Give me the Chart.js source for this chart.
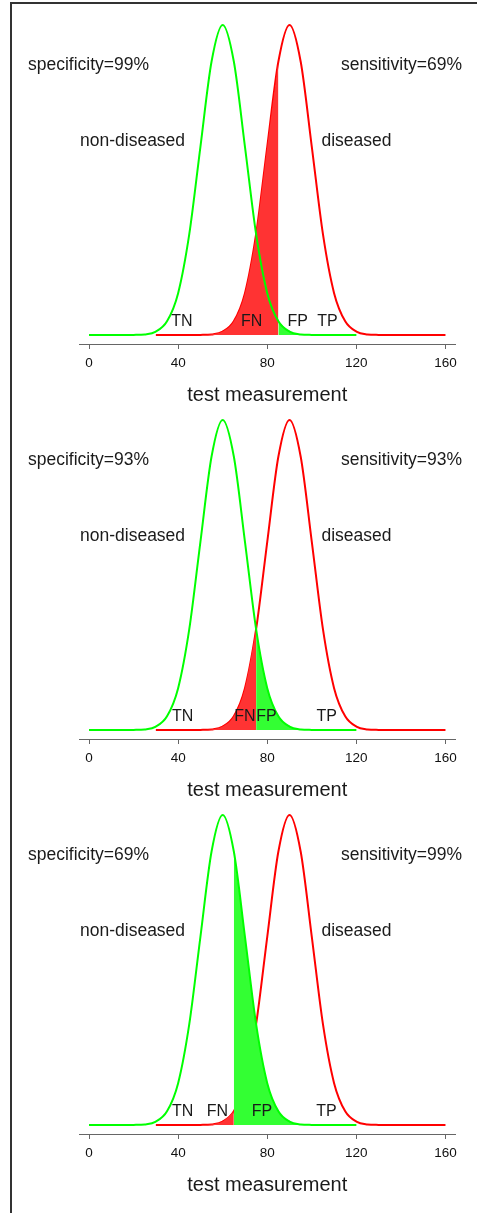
<!DOCTYPE html>
<html>
<head>
<meta charset="utf-8">
<script src="https://cdn.jsdelivr.net/npm/chart.js@4.4.1/dist/chart.umd.min.js"></script>
<style>
  html, body { margin: 0; padding: 0; background: #fff; overflow: hidden; }
  body { width: 477px; height: 1213px; position: relative; }
  .frame { position: absolute; left: 10px; top: 2px; width: 480px; height: 1300px;
           border-top: 2px solid #333; border-left: 2px solid #333; border-right: none; border-bottom: none; }
  canvas { position: absolute; left: 0; }
</style>
</head>
<body>
<div class="frame"></div>
<canvas id="p0" width="477" height="407" style="top:0px"></canvas>
<canvas id="p1" width="477" height="407" style="top:395px"></canvas>
<canvas id="p2" width="477" height="407" style="top:790px"></canvas>
<script>
// Relative density of the test measurement, non-diseased group (peak = 1)
const measureNonDiseased = [0, 5, 10, 15, 20, 25, 30, 35, 40, 45, 50, 55, 60,
                            65, 70, 75, 80, 85, 90, 95, 100, 105, 110, 115, 120];
const densityNonDiseased = [0, 0, 0, 0, 0.0003, 0.002, 0.011, 0.044, 0.135, 0.325, 0.607, 0.882, 1,
                            0.882, 0.607, 0.325, 0.135, 0.044, 0.011, 0.002, 0.0003, 0, 0, 0, 0];
// Relative density of the test measurement, diseased group (peak = 1)
const measureDiseased = [30, 35, 40, 45, 50, 55, 60, 65, 70, 75, 80, 85, 90, 95,
                         100, 105, 110, 115, 120, 125, 130, 135, 140, 145, 150, 155, 160];
const densityDiseased = [0, 0, 0, 0, 0.0003, 0.002, 0.011, 0.044, 0.135, 0.325, 0.607, 0.882, 1, 0.882,
                         0.607, 0.325, 0.135, 0.044, 0.011, 0.002, 0.0003, 0, 0, 0, 0, 0, 0];
// One cut-off per panel and the resulting test characteristics
const cutoffs = [85, 75, 65];
const specificity = [99, 93, 69];
const sensitivity = [69, 93, 99];
const tickValues = [0, 40, 80, 120, 160];
const outcomeLabels = ['TN', 'FN', 'FP', 'TP'];
const groupLabels = ['non-diseased', 'diseased'];
const axisTitle = 'test measurement';

const FONT = '"Liberation Sans", Arial, Helvetica, sans-serif';
const TEXT = '#1a1a1a';
// horizontal centres (in measurement units) of the TN / FN / FP / TP labels
const outcomeLabelPos = [
  [41.7, 73, 93.7, 107],
  [42, 70, 79.6, 106.7],
  [42, 57.6, 77.6, 106.6]
];

function points(xs, ys, keep) {
  const out = [];
  xs.forEach((x, i) => { if (keep(x)) out.push({ x: x, y: ys[i] }); });
  return out;
}

const annotate = {
  id: 'annotate',
  afterDatasetsDraw(chart, args, opts) {
    const ctx = chart.ctx;
    const xs = chart.scales.x, ys = chart.scales.y;
    const base = ys.getPixelForValue(0);
    const k = opts.panel;
    ctx.save();
    ctx.fillStyle = TEXT;
    ctx.textBaseline = 'middle';
    ctx.font = '17.5px ' + FONT;
    ctx.textAlign = 'left';
    ctx.fillText('specificity=' + specificity[k] + '%', 28, 65);
    ctx.textAlign = 'right';
    ctx.fillText('sensitivity=' + sensitivity[k] + '%', 462, 65);
    ctx.textAlign = 'left';
    ctx.fillText(groupLabels[0], 80, 141);
    ctx.fillText(groupLabels[1], 321.5, 141);
    ctx.font = '16px ' + FONT;
    ctx.textAlign = 'center';
    outcomeLabels.forEach((t, j) => {
      ctx.fillText(t, xs.getPixelForValue(outcomeLabelPos[k][j]), base - 13);
    });
    ctx.restore();
  }
};

function makePanel(k) {
  const cut = cutoffs[k];
  const lineOpts = { pointRadius: 0, borderWidth: 2, fill: false, cubicInterpolationMode: 'monotone' };
  const fillOpts = { pointRadius: 0, borderWidth: 0, fill: 'origin', cubicInterpolationMode: 'monotone' };
  new Chart(document.getElementById('p' + k), {
    type: 'line',
    data: {
      datasets: [
        Object.assign({ label: 'diseased', order: 4, borderColor: '#ff0000',
          data: points(measureDiseased, densityDiseased, () => true) }, lineOpts),
        Object.assign({ label: 'FN', order: 3, backgroundColor: '#ff3333', borderColor: '#ff3333',
          data: points(measureDiseased, densityDiseased, x => x <= cut) }, fillOpts),
        Object.assign({ label: 'FP', order: 2, backgroundColor: '#33ff33', borderColor: '#33ff33',
          data: points(measureNonDiseased, densityNonDiseased, x => x >= cut) }, fillOpts),
        Object.assign({ label: 'non-diseased', order: 1, borderColor: '#00ff00',
          data: points(measureNonDiseased, densityNonDiseased, () => true) }, lineOpts)
      ]
    },
    options: {
      responsive: false,
      animation: false,
      devicePixelRatio: 1,
      layout: { padding: { left: 79, right: 21.5, top: 10, bottom: 0 } },
      plugins: { legend: { display: false }, tooltip: { enabled: false }, annotate: { panel: k } },
      scales: {
        x: {
          type: 'linear', min: -4.5, max: 164.5,
          afterBuildTicks: s => { s.ticks = tickValues.map(v => ({ value: v })); },
          afterFit: s => { s.height = 63; },
          grid: { drawOnChartArea: false, drawTicks: true, tickLength: 5, color: '#666', lineWidth: 1 },
          border: { display: true, color: '#666', width: 1 },
          ticks: { font: { family: FONT, size: 13.5 }, color: '#111', padding: 6, autoSkip: false, maxRotation: 0 },
          title: { display: true, text: axisTitle, color: TEXT, font: { family: FONT, size: 20 }, padding: 0 }
        },
        y: { display: false, min: -0.029, max: 1.048 }
      }
    },
    plugins: [annotate]
  });
}
[0, 1, 2].forEach(makePanel);
</script>
</body>
</html>
